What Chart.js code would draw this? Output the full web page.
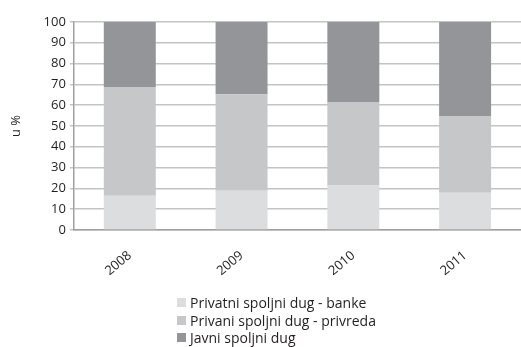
<!DOCTYPE html>
<html lang="sr">
<head>
  <meta charset="UTF-8">
  <title>Spoljni dug</title>
  <script src="https://cdn.jsdelivr.net/npm/chart.js"></script>
  <style>
    body { margin: 0; background: white; font-family: 'Open Sans', sans-serif; }
    .wrap { position: relative; width: 521px; height: 347px; }
    #legend {
      position: absolute; left: 177px; top: 294px;
      font-size: 14px; color: #231f20; line-height: 17.5px;
    }
    #legend div { display: flex; align-items: center; white-space: nowrap; }
    #legend span.box { display: inline-block; width: 9px; height: 9px; margin-right: 4px; }
  </style>
</head>
<body>
<div class="wrap">
  <canvas id="chart" width="521" height="347"></canvas>
  <div id="legend"></div>
</div>

<script>
  const years = ['2008', '2009', '2010', '2011'];
  const banke = [16.5, 18.8, 21.4, 17.9];
  const privreda = [52.2, 46.5, 40.1, 36.9];
  const javni = [31.3, 34.7, 38.5, 45.2];
  const seriesNames = ['Privatni spoljni dug - banke', 'Privani spoljni dug - privreda', 'Javni spoljni dug'];
  const seriesColors = ['#dcdddf', '#c6c7c9', '#939598'];

  const datasets = [banke, privreda, javni].map((vals, i) => ({
    label: seriesNames[i],
    data: vals,
    backgroundColor: seriesColors[i],
    barPercentage: 0.93,
    categoryPercentage: 0.5
  }));

  new Chart(document.getElementById('chart').getContext('2d'), {
    type: 'bar',
    data: { labels: years, datasets: datasets },
    options: {
      responsive: false,
      animation: false,
      layout: { padding: { left: 0, right: 0, top: 22, bottom: 58 } },
      plugins: {
        legend: { display: false },
        tooltip: { enabled: false }
      },
      scales: {
        x: {
          stacked: true,
          grid: { display: false },
          border: { color: '#a0a0a0', width: 1.5 },
          ticks: {
            color: '#231f20',
            font: { family: 'Open Sans', size: 13 },
            minRotation: 40, maxRotation: 40,
            padding: 10
          }
        },
        y: {
          stacked: true,
          min: 0, max: 100,
          title: {
            display: true, text: 'u %', color: '#231f20',
            font: { family: 'Open Sans', size: 13 },
            padding: { top: 8, bottom: 16 }
          },
          grid: { color: '#c4c4c4', lineWidth: 1.5, tickLength: 4 },
          border: { color: '#a0a0a0', width: 1.5 },
          ticks: {
            stepSize: 10,
            color: '#231f20',
            font: { family: 'Open Sans', size: 13 },
            padding: 4
          }
        }
      }
    }
  });

  const legend = document.getElementById('legend');
  seriesNames.forEach((name, i) => {
    const row = document.createElement('div');
    row.innerHTML = '<span class="box" style="background:' + seriesColors[i] + '"></span>' + name;
    legend.appendChild(row);
  });
</script>
</body>
</html>
